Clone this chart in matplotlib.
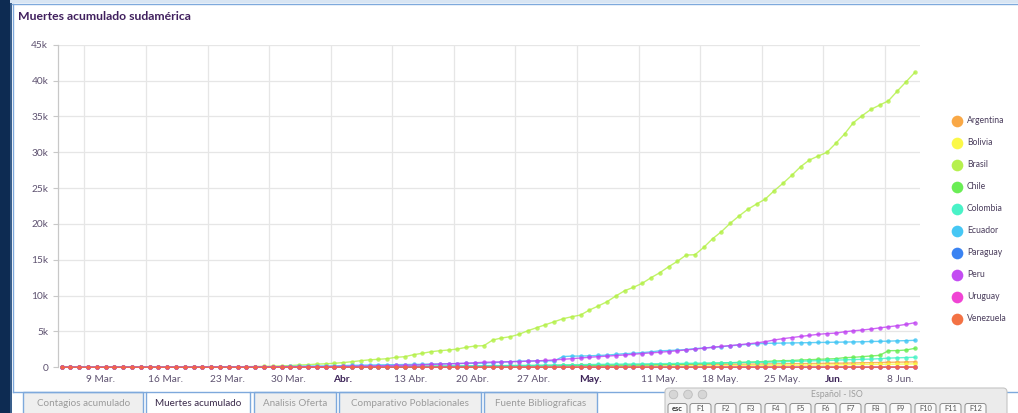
import matplotlib
matplotlib.use('Agg')
import matplotlib.pyplot as plt
import matplotlib.dates as mdates
import matplotlib.transforms as mtransforms
from matplotlib.patches import Rectangle, FancyBboxPatch, Circle
import numpy as np
import pandas as pd

# ---------------- data ----------------
title = 'Muertes acumulado sudamérica'
start_date = '2020-03-06 10:00'
n_days = 98

countries = ['Argentina', 'Bolivia', 'Brasil', 'Chile', 'Colombia',
             'Ecuador', 'Paraguay', 'Peru', 'Uruguay', 'Venezuela']
colors = ['#f9a43c', '#fbf83e', '#b2f044', '#62ec4c', '#3ff2c4',
          '#3cc4f4', '#2f7cf2', '#c042f2', '#f03ad2', '#f36a3a']

argentina = [0, 1, 1, 2, 2, 2, 2, 2, 2, 2,
             2, 2, 2, 3, 3, 4, 4, 4, 6, 8,
             9, 13, 18, 19, 23, 27, 28, 36, 39, 43,
             44, 48, 56, 63, 72, 82, 83, 90, 97, 102,
             111, 115, 123, 129, 132, 136, 147, 152, 165, 176,
             185, 192, 197, 207, 214, 218, 225, 237, 246, 260,
             264, 273, 282, 293, 300, 305, 314, 319, 329, 353,
             356, 363, 373, 382, 393, 403, 416, 433, 445, 452,
             467, 484, 500, 508, 520, 528, 539, 556, 569, 583,
             608, 632, 648, 664, 693, 717, 735, 765]
bolivia = [0, 0, 0, 0, 0, 0, 0, 0, 0, 0,
           0, 0, 0, 0, 0, 0, 0, 0, 0, 0,
           0, 0, 0, 1, 1, 3, 6, 8, 9, 10,
           11, 14, 15, 18, 20, 24, 27, 28, 29, 31,
           32, 34, 36, 37, 40, 43, 44, 46, 50, 53,
           55, 56, 59, 59, 62, 62, 65, 71, 73, 82,
           86, 91, 102, 106, 114, 122, 142, 152, 165, 169,
           174, 177, 189, 195, 198, 199, 215, 225, 235, 245,
           250, 260, 270, 280, 293, 305, 313, 325, 343, 360,
           375, 393, 400, 415, 425, 440, 455, 480]
brasil = [0, 0, 0, 0, 0, 0, 0, 0, 0, 0,
          0, 1, 3, 6, 11, 18, 25, 34, 46, 59,
          77, 92, 111, 136, 159, 201, 240, 324, 359, 445,
          486, 557, 660, 780, 920, 1040, 1116, 1200, 1394, 1478,
          1757, 1952, 2175, 2315, 2412, 2552, 2789, 2970, 3012, 3807,
          4086, 4267, 4602, 5104, 5522, 5941, 6359, 6777, 7056, 7293,
          7990, 8548, 9148, 9943, 10682, 11156, 11714, 12495, 13192, 14029,
          14782, 15660, 15700, 16734, 17934, 18910, 20081, 21099, 22033, 22772,
          23470, 24627, 25658, 26774, 27974, 28908, 29466, 29985, 31237, 32534,
          34110, 35086, 35979, 36578, 37178, 38530, 39827, 41138]
chile = [0, 0, 0, 0, 0, 0, 0, 0, 0, 0,
         0, 0, 0, 0, 0, 1, 1, 2, 2, 3,
         4, 5, 6, 7, 8, 12, 16, 18, 22, 27,
         34, 37, 43, 48, 57, 65, 73, 82, 92, 94,
         105, 116, 126, 133, 139, 147, 160, 168, 174, 181,
         189, 198, 207, 216, 227, 234, 247, 260, 270, 275,
         281, 285, 294, 304, 312, 323, 335, 346, 368, 394,
         421, 450, 478, 509, 544, 589, 630, 673, 718, 761,
         806, 879, 925, 944, 1018, 1054, 1111, 1157, 1204, 1343,
         1390, 1483, 1576, 1669, 2315, 2330, 2412, 2650]
colombia = [0, 0, 0, 0, 0, 0, 0, 0, 0, 0,
            0, 0, 0, 0, 0, 1, 1, 3, 4, 6,
            10, 12, 14, 16, 17, 19, 25, 32, 35, 46,
            50, 54, 69, 80, 100, 109, 112, 127, 131, 144,
            153, 166, 179, 189, 196, 206, 215, 225, 233, 240,
            244, 253, 269, 278, 293, 314, 330, 345, 360, 375,
            390, 405, 420, 435, 450, 465, 480, 495, 505, 518,
            530, 550, 570, 590, 610, 630, 650, 665, 680, 690,
            700, 740, 780, 820, 850, 890, 920, 950, 1000, 1040,
            1080, 1110, 1150, 1200, 1280, 1320, 1360, 1400]
ecuador = [0, 0, 0, 0, 0, 0, 0, 2, 2, 2,
           2, 2, 3, 5, 7, 14, 18, 27, 28, 34,
           36, 48, 58, 60, 75, 93, 120, 145, 172, 180,
           191, 191, 242, 272, 297, 315, 333, 355, 369, 388,
           403, 421, 456, 474, 507, 520, 537, 560, 576, 663,
           700, 780, 850, 871, 883, 900, 900, 1500, 1560, 1570,
           1600, 1650, 1700, 1800, 1900, 1950, 2050, 2150, 2300, 2340,
           2400, 2480, 2600, 2700, 2780, 2880, 3000, 3100, 3200, 3280,
           3346, 3360, 3380, 3400, 3420, 3440, 3460, 3480, 3500, 3520,
           3540, 3560, 3600, 3620, 3650, 3690, 3720, 3765]
paraguay = [0, 0, 0, 0, 0, 0, 0, 0, 0, 0,
            0, 0, 0, 0, 0, 1, 2, 2, 2, 3,
            3, 3, 3, 3, 3, 3, 3, 3, 3, 5,
            5, 5, 5, 6, 7, 8, 8, 8, 8, 8,
            8, 8, 8, 8, 8, 8, 8, 9, 9, 9,
            9, 9, 9, 9, 9, 10, 10, 10, 10, 10,
            10, 10, 10, 10, 10, 10, 10, 10, 11, 11,
            11, 11, 11, 11, 11, 11, 11, 11, 11, 11,
            11, 11, 11, 11, 11, 11, 11, 11, 11, 11,
            11, 11, 11, 13, 13, 13, 13, 13]
peru = [0, 0, 0, 0, 0, 0, 0, 0, 0, 0,
        0, 0, 0, 2, 3, 5, 5, 7, 9, 9,
        11, 16, 18, 24, 30, 38, 55, 61, 73, 83,
        92, 107, 121, 138, 169, 181, 216, 230, 254, 274,
        300, 348, 400, 445, 484, 530, 572, 634, 700, 728,
        752, 782, 806, 854, 900, 950, 1030, 1120, 1200, 1300,
        1400, 1480, 1560, 1640, 1720, 1820, 1920, 2010, 2100, 2200,
        2310, 2420, 2540, 2660, 2790, 2910, 3030, 3150, 3270, 3400,
        3575, 3807, 3993, 4150, 4300, 4450, 4600, 4700, 4770, 4950,
        5090, 5200, 5330, 5500, 5650, 5800, 5990, 6221]
uruguay = [0, 0, 0, 0, 0, 0, 0, 0, 0, 0,
           0, 0, 0, 0, 0, 0, 1, 1, 1, 1,
           2, 2, 4, 4, 5, 6, 7, 7, 7, 7,
           8, 8, 8, 8, 8, 9, 9, 9, 10, 10,
           10, 10, 10, 10, 10, 12, 12, 12, 14, 14,
           15, 15, 15, 15, 17, 17, 17, 17, 17, 18,
           18, 18, 19, 19, 19, 19, 19, 19, 19, 19,
           20, 20, 20, 20, 20, 20, 20, 20, 21, 22,
           22, 22, 22, 22, 22, 22, 22, 22, 22, 22,
           23, 23, 23, 23, 23, 24, 24, 24]
venezuela = [0, 0, 0, 0, 0, 0, 0, 0, 0, 0,
             0, 0, 0, 0, 0, 0, 0, 0, 0, 0,
             0, 2, 2, 3, 3, 3, 5, 7, 7, 7,
             7, 7, 7, 7, 9, 9, 9, 9, 9, 9,
             9, 9, 9, 9, 9, 9, 10, 10, 10, 10,
             10, 10, 10, 10, 10, 10, 10, 10, 10, 10,
             10, 10, 10, 10, 10, 10, 10, 10, 10, 10,
             11, 11, 11, 11, 11, 11, 11, 11, 11, 14,
             14, 14, 14, 14, 14, 14, 14, 14, 14, 15,
             17, 17, 18, 20, 22, 22, 24, 24]

series = [argentina, bolivia, brasil, chile, colombia,
          ecuador, paraguay, peru, uruguay, venezuela]

x_ticks = ['2020-03-09', '2020-03-16', '2020-03-23', '2020-03-30', '2020-04-06',
           '2020-04-13', '2020-04-20', '2020-04-27', '2020-05-04', '2020-05-11',
           '2020-05-18', '2020-05-25', '2020-06-01', '2020-06-08']
x_tick_labels = ['9 Mar.', '16 Mar.', '23 Mar.', '30 Mar.', 'Abr.', '13 Abr.',
                 '20 Abr.', '27 Abr.', 'May.', '11 May.', '18 May.', '25 May.',
                 'Jun.', '8 Jun.']
y_ticks = [0, 5000, 10000, 15000, 20000, 25000, 30000, 35000, 40000, 45000]
y_tick_labels = ['0', '5k', '10k', '15k', '20k', '25k', '30k', '35k', '40k', '45k']

tabs = ['Contagios acumulado', 'Muertes acumulado', 'Analisis Oferta',
        'Comparativo Poblacionales', 'Fuente Bibliograficas']
fkeys = ['esc', 'F1', 'F2', 'F3', 'F4', 'F5', 'F6', 'F7', 'F8', 'F9', 'F10', 'F11', 'F12']

# ---------------- figure ----------------
plt.rcParams['font.family'] = ['Lato', 'DejaVu Sans']
W, H = 1018, 413
fig = plt.figure(figsize=(W / 100, H / 100), dpi=100)
fig.patch.set_facecolor('white')


def fx(px):
    return px / W


def fy(py):
    return 1 - py / H


L, R, T, B = 58, 920, 44.7, 367.3
ax = fig.add_axes([fx(L), fy(B), fx(R) - fx(L), fy(T) - fy(B)])
ax.set_zorder(2)
ax.patch.set_alpha(0)

dates = pd.date_range(start_date, periods=n_days, freq='D')
for name, vals, col in zip(countries, series, colors):
    ax.plot(dates, vals, color=col, lw=1.0, alpha=0.8,
            marker='o', markersize=3.2, markeredgewidth=0, clip_on=False)

ax.set_xlim(pd.Timestamp('2020-03-06'), pd.Timestamp('2020-06-12'))
ax.set_ylim(0, 45000)
tick_dates = pd.to_datetime(x_ticks)
ax.set_xticks(tick_dates)
ax.set_xticklabels([])
ax.set_yticks(y_ticks)
ax.set_yticklabels(y_tick_labels)
ax.grid(True, color='#e6e6e6', lw=0.9)
ax.set_axisbelow(True)
for s in ['top', 'right', 'bottom']:
    ax.spines[s].set_visible(False)
ax.spines['left'].set_color('#c8c8c8')
ax.spines['left'].set_linewidth(0.9)
ax.tick_params(axis='x', length=0)
ax.tick_params(axis='y', length=3.6, width=0.8, color='#c8c8c8', pad=3.4,
               labelsize=7.3, labelcolor='#5e5270')

base = mtransforms.blended_transform_factory(ax.transData, ax.transAxes)
trans = mtransforms.offset_copy(base, fig=fig, x=2, y=-12, units='dots')
for d, lab in zip(tick_dates, x_tick_labels):
    bold = not any(ch.isdigit() for ch in lab)
    ax.text(mdates.date2num(d), 0, lab, transform=trans, ha='left', va='center',
            fontsize=7.3, color='#3d2458' if bold else '#5e5270',
            fontweight='bold' if bold else 'normal', clip_on=False)

# ---------------- decorations (pixel overlay) ----------------
ov = fig.add_axes([0, 0, 1, 1])
ov.set_xlim(0, W)
ov.set_ylim(H, 0)
ov.axis('off')
ov.set_zorder(5)
ov.patch.set_alpha(0)

border = '#7ea9dc'
# left dark strip and top band
ov.add_patch(Rectangle((0, 0), 10.5, H, color='#0d2b52', lw=0))
ov.add_patch(Rectangle((10.5, 0), 2, H, color='#3a5f8c', lw=0))
ov.add_patch(Rectangle((10.5, 0), W, 3, color='#d8e5f3', lw=0))
ov.plot([12.5, W], [3.5, 3.5], color=border, lw=1)
ov.plot([13, 13], [3.5, 392], color=border, lw=1)

# title
ov.text(18, 16, title, ha='left', va='center', fontsize=8.8,
        fontweight='bold', color='#40205e')

# legend
for i, (name, col) in enumerate(zip(countries, colors)):
    yy = 120.7 + i * 22
    ov.plot([957.3], [yy], marker='o', markersize=8.4, color=col,
            markeredgewidth=0, alpha=0.95)
    ov.text(967, yy, name, ha='left', va='center', fontsize=6.2, color='#4a3d5c')

# bottom tabs
ov.add_patch(Rectangle((13, 392), W, H - 392, color='white', lw=0, zorder=0))
tab_x = [(23, 143.3), (145.7, 250.5), (254, 336.5), (339.5, 481.5), (484.5, 597)]
for i, (name, (x0, x1)) in enumerate(zip(tabs, tab_x)):
    active = (i == 1)
    ov.add_patch(Rectangle((x0, 392), x1 - x0, 30,
                           facecolor='white' if active else '#efefef',
                           edgecolor=border, lw=1, zorder=1))
    ov.text((x0 + x1) / 2, 403.5, name, ha='center', va='center',
            fontsize=7.1, color='#3a2a4a' if active else '#9b9b9b', zorder=2)
ov.plot([13, 145.7], [392, 392], color=border, lw=1, zorder=3)
ov.plot([250.5, W], [392, 392], color=border, lw=1, zorder=3)

# keyboard viewer overlay
ov.add_patch(FancyBboxPatch((665, 388), 342, 40,
                            boxstyle='round,pad=0,rounding_size=4',
                            facecolor='#ebebeb', edgecolor='#c4c4c4', lw=0.8, zorder=6))
for cx in [673.5, 688, 702.5]:
    ov.add_patch(Circle((cx, 394.5), 4.3, facecolor='#d6d6d6',
                        edgecolor='#bcbcbc', lw=0.6, zorder=7))
ov.text(837, 394.5, 'Español - ISO', ha='center', va='center',
        fontsize=6.3, color='#9e9e9e', zorder=7)
key_x = [668] + [690 + 25 * k for k in range(12)]
key_w = [19] + [21] * 12
for k, (lab, kx, kw) in enumerate(zip(fkeys, key_x, key_w)):
    ov.add_patch(FancyBboxPatch((kx, 403.5), kw, 14,
                                boxstyle='round,pad=0,rounding_size=2.5',
                                facecolor='#fafafa', edgecolor='#8e8e8e', lw=0.7, zorder=7))
    ov.text(kx + kw / 2, 408.8, lab, ha='center', va='center',
            fontsize=5.4, color='#333333' if k == 0 else '#555555',
            fontweight='bold' if k == 0 else 'normal', zorder=8)

fig.savefig('out.png', dpi=100, facecolor=fig.get_facecolor())
